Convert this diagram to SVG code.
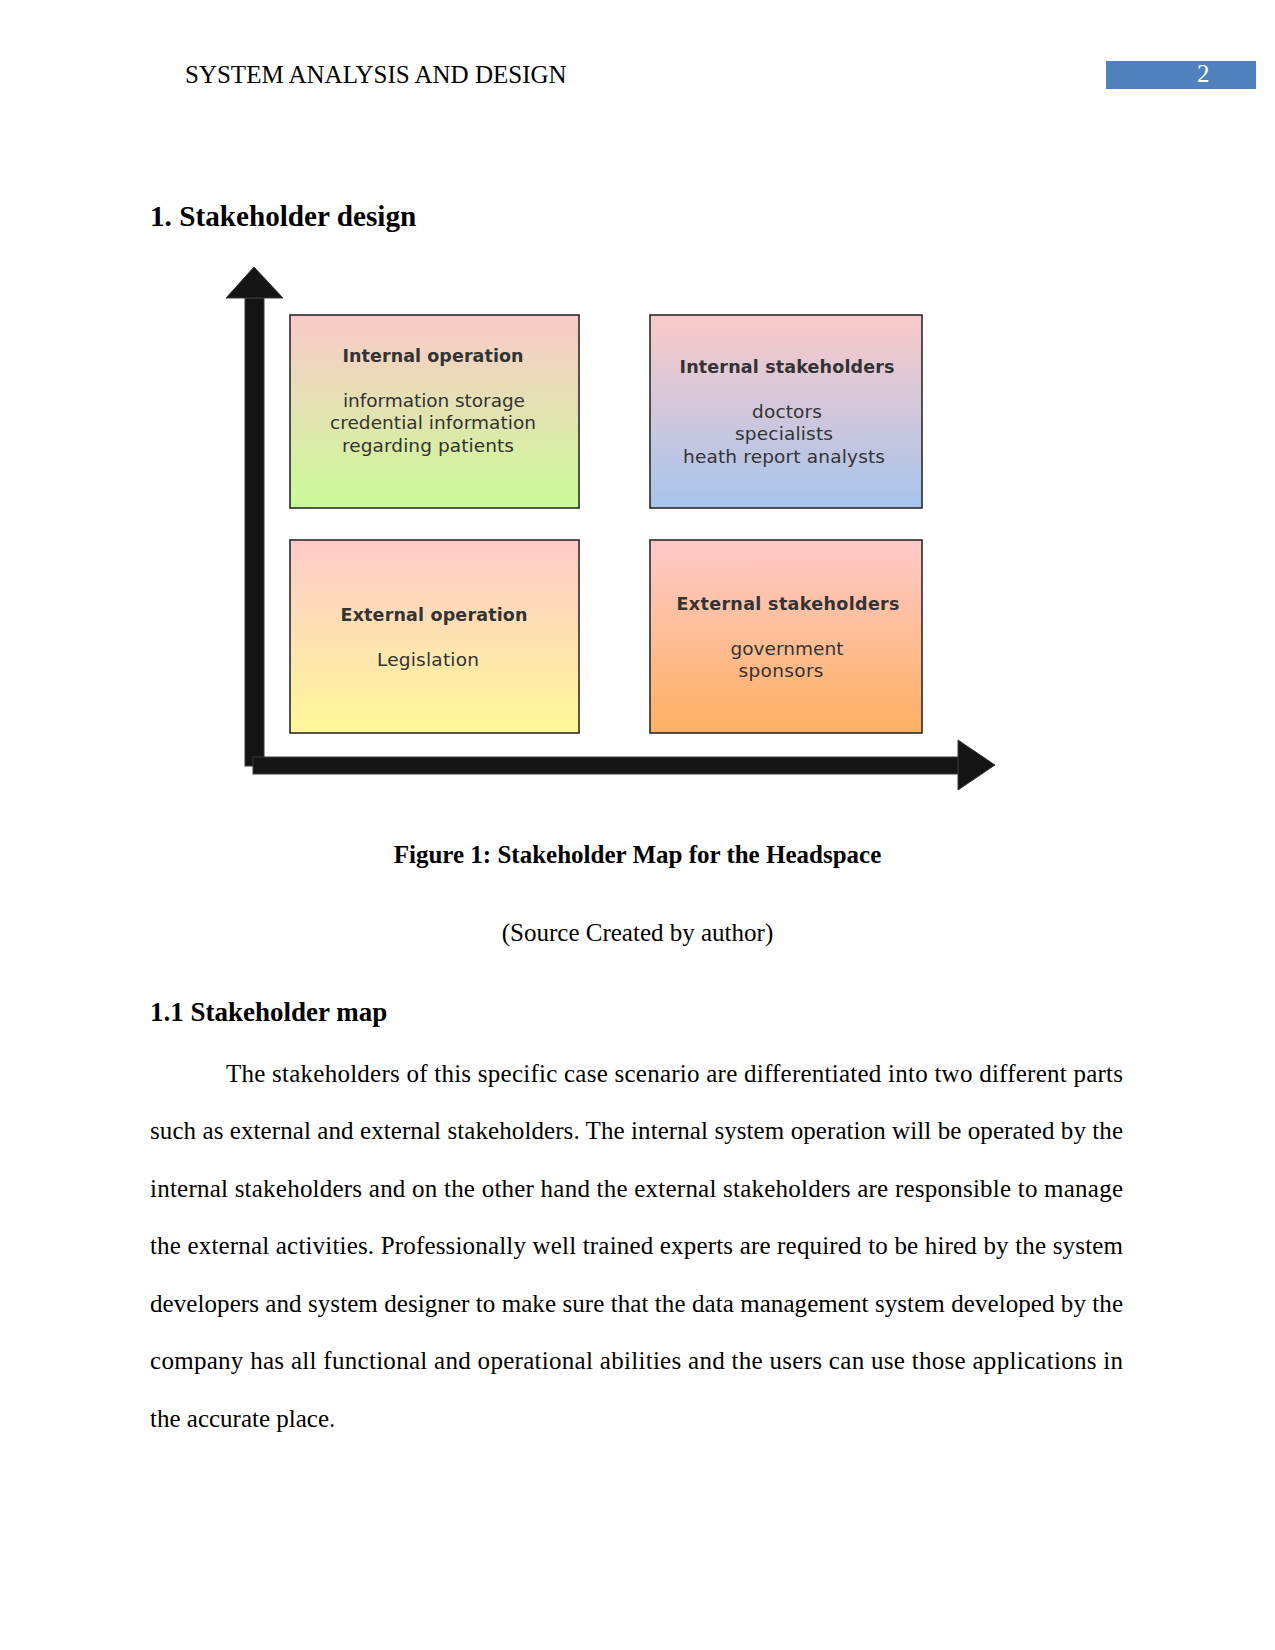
<svg xmlns="http://www.w3.org/2000/svg" width="1275" height="1650" viewBox="0 0 1275 1650">
<style>
.serif{font-family:"Liberation Serif","Times New Roman",serif;fill:#000}
.body{font-size:25px}
.b{font-weight:bold}
.box{stroke:#2b2b2b;stroke-width:1.6}
.t{font-family:"DejaVu Sans",Verdana,sans-serif;fill:#333;text-anchor:middle}
.tt{font-size:17.5px;font-weight:bold}
.tb{font-size:18.5px}
.arrow{fill:#141414;stroke:#3a3a3a;stroke-width:1}
</style>
<defs>
<linearGradient id="g1" x1="0" y1="0" x2="0" y2="1"><stop offset="0" stop-color="#FACACA"/><stop offset="1" stop-color="#CBFB97"/></linearGradient>
<linearGradient id="g2" x1="0" y1="0" x2="0" y2="1"><stop offset="0" stop-color="#FACACA"/><stop offset="1" stop-color="#A7C4EC"/></linearGradient>
<linearGradient id="g3" x1="0" y1="0" x2="0" y2="1"><stop offset="0" stop-color="#FECACA"/><stop offset="1" stop-color="#FEF898"/></linearGradient>
<linearGradient id="g4" x1="0" y1="0" x2="0" y2="1"><stop offset="0" stop-color="#FECACA"/><stop offset="1" stop-color="#FDB062"/></linearGradient>
</defs>
<rect width="1275" height="1650" fill="#fff"/>

<g id="header">
<text class="serif body" x="185" y="83">SYSTEM ANALYSIS AND DESIGN</text>
<rect x="1106" y="61" width="150" height="28" fill="#4F81BD"/>
<text class="serif body" x="1197" y="82" style="fill:#fff">2</text>
</g>

<text class="serif b" x="150" y="226" font-size="29.2">1. Stakeholder design</text>

<g id="connectors">
<rect class="arrow" x="245" y="298" width="19" height="468"/>
<polygon class="arrow" points="226,298 254,267 283,298"/>
<rect class="arrow" x="253" y="757" width="706" height="17"/>
<polygon class="arrow" points="958,740 995,765 958,790"/>
</g>

<g id="internal-operation">
<rect class="box" x="290" y="315" width="289" height="193" fill="url(#g1)"/>
<text class="t tt" x="433" y="362" textLength="181">Internal operation</text>
<text class="t tb" x="434" y="407" textLength="182">information storage</text>
<text class="t tb" x="433" y="429" textLength="206">credential information</text>
<text class="t tb" x="428" y="452" textLength="172">regarding patients</text>
</g>

<g id="internal-stakeholders">
<rect class="box" x="650" y="315" width="272" height="193" fill="url(#g2)"/>
<text class="t tt" x="787" y="373" textLength="215">Internal stakeholders</text>
<text class="t tb" x="787" y="418" textLength="70">doctors</text>
<text class="t tb" x="784" y="440" textLength="98">specialists</text>
<text class="t tb" x="784" y="463" textLength="202">heath report analysts</text>
</g>

<g id="external-operation">
<rect class="box" x="290" y="540" width="289" height="193" fill="url(#g3)"/>
<text class="t tt" x="434" y="621" textLength="187">External operation</text>
<text class="t tb" x="428" y="666" textLength="102">Legislation</text>
</g>

<g id="external-stakeholders">
<rect class="box" x="650" y="540" width="272" height="193" fill="url(#g4)"/>
<text class="t tt" x="788" y="610" textLength="223">External stakeholders</text>
<text class="t tb" x="787" y="655" textLength="113">government</text>
<text class="t tb" x="781" y="677" textLength="85">sponsors</text>
</g>

<text class="serif body b" x="637.5" y="863" text-anchor="middle">Figure 1: Stakeholder Map for the Headspace</text>
<text class="serif body" x="637.5" y="941" text-anchor="middle">(Source Created by author)</text>

<text class="serif b" x="150" y="1021" font-size="27">1.1 Stakeholder map</text>

<g id="paragraph" class="serif body">
<text x="226" y="1082" textLength="897" lengthAdjust="spacing">The stakeholders of this specific case scenario are differentiated into two different parts</text>
<text x="150" y="1139" textLength="973" lengthAdjust="spacing">such as external and external stakeholders. The internal system operation will be operated by the</text>
<text x="150" y="1197" textLength="973" lengthAdjust="spacing">internal stakeholders and on the other hand the external stakeholders are responsible to manage</text>
<text x="150" y="1254" textLength="973" lengthAdjust="spacing">the external activities. Professionally well trained experts are required to be hired by the system</text>
<text x="150" y="1312" textLength="973" lengthAdjust="spacing">developers and system designer to make sure that the data management system developed by the</text>
<text x="150" y="1369" textLength="973" lengthAdjust="spacing">company has all functional and operational abilities and the users can use those applications in</text>
<text x="150" y="1427">the accurate place.</text>
</g>
</svg>
